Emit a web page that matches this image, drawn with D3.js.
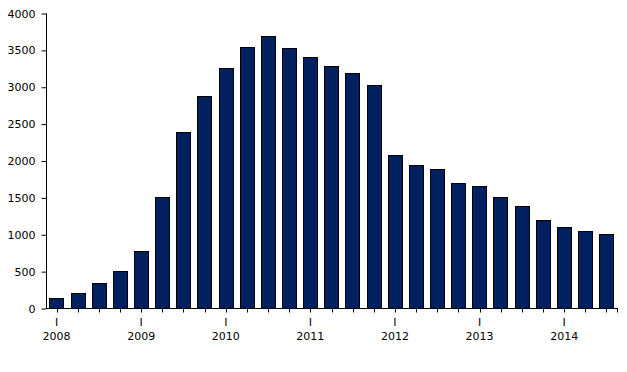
<!DOCTYPE html>
<html>
<head>
<meta charset="utf-8">
<script src="https://cdn.jsdelivr.net/npm/d3@7"></script>
<style>
body { margin: 0; background: #fff; }
text { font-family: "DejaVu Sans", Verdana, sans-serif; font-size: 11px; fill: #000; }
</style>
</head>
<body>
<svg width="627" height="372"></svg>
<script>
// quarterly values, 2008 Q1 .. 2014 Q3
var values = [130, 200, 335, 500, 770, 1500, 2380, 2880,
  3260, 3535, 3685, 3520, 3410, 3275, 3185, 3020,
  2070, 1935, 1880, 1690, 1650, 1500, 1380, 1200,
  1095, 1040, 1000];
var years = ["2008", "2009", "2010", "2011", "2012", "2013", "2014"];
var yTicks = [0, 500, 1000, 1500, 2000, 2500, 3000, 3500, 4000];

var svg = d3.select("svg");
var plotL = 46, plotR = 617, plotT = 13, plotB = 308;

var x = d3.scaleBand()
  .domain(d3.range(values.length))
  .range([plotL, plotR])
  .paddingInner(0.32)
  .paddingOuter(0.16);

var y = d3.scaleLinear().domain([0, 4000]).range([plotB, plotT]);

svg.selectAll("rect.bar")
  .data(values)
  .enter().append("rect")
  .attr("class", "bar")
  .attr("x", function(d, i){ return Math.round(x(i)) + 0.5; })
  .attr("y", function(d){ return Math.round(y(d)) + 0.5; })
  .attr("width", Math.round(x.bandwidth()))
  .attr("height", function(d){ return Math.round(y(0)) - Math.round(y(d)); })
  .attr("fill", "#002060")
  .attr("stroke", "#000")
  .attr("stroke-width", 1);

// y axis
var yAxis = svg.append("g")
  .attr("transform", "translate(" + (plotL + 0.5) + ",0.5)")
  .call(d3.axisLeft(y).tickValues(yTicks).tickSize(5).tickPadding(6).tickFormat(d3.format("d")));
yAxis.selectAll("path, line").attr("stroke", "#000");
yAxis.selectAll("text").attr("font-size", null).attr("font-family", null);
yAxis.select(".domain").attr("d", "M0," + plotT + "V" + plotB);

// x axis, ticks at bar centres plus one at the end
var xAxis = svg.append("g").attr("transform", "translate(0," + (plotB + 0.5) + ")");
xAxis.append("line")
  .attr("x1", plotL).attr("x2", plotR + 1)
  .attr("stroke", "#000");
var tickX = values.map(function(d, i){ return Math.round(x(i) + x.bandwidth() / 2) + 0.5; });
tickX.push(plotR + 0.5);
xAxis.selectAll("line.tick")
  .data(tickX)
  .enter().append("line")
  .attr("class", "tick")
  .attr("x1", function(d){ return d; }).attr("x2", function(d){ return d; })
  .attr("y1", 0).attr("y2", 4)
  .attr("stroke", "#000");

var lab = xAxis.selectAll("g.lab")
  .data(years)
  .enter().append("g")
  .attr("class", "lab")
  .attr("transform", function(d, i){ return "translate(" + (x(i * 4) + x.bandwidth() / 2) + ",0)"; });
lab.append("text").attr("y", 17).attr("text-anchor", "middle").attr("font-family", "Liberation Serif").attr("font-size", "12px").text("I");
lab.append("text").attr("y", 31).attr("text-anchor", "middle").text(function(d){ return d; });
</script>
</body>
</html>
